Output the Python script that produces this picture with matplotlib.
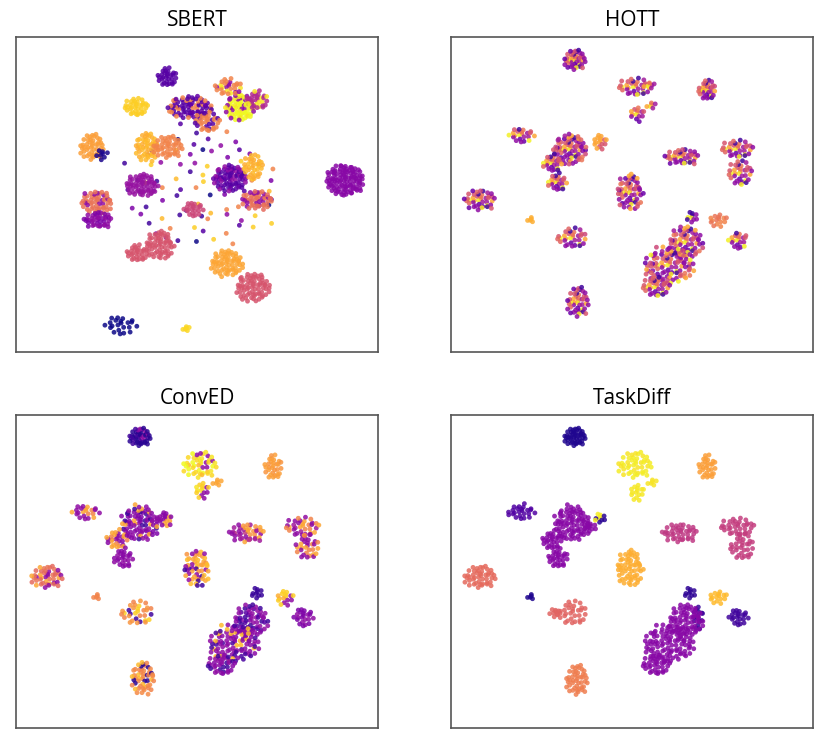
import numpy as np
import matplotlib
matplotlib.use("Agg")
import matplotlib.pyplot as plt

# t-SNE clusters: (x, y, spread_x, spread_y, n_points, class colours)
# class colours are positions in the plasma colormap (0 = navy, 1 = yellow)
titles = ["SBERT", "HOTT", "ConvED", "TaskDiff"]

sbert = [
    (185, 150, 75, 58, 85, [0.1, 0.3, 0.9, 0.7, 0.15, 0.85, 0.25, 0.0]),
    (104, 288, 15, 9, 22, [0.0]),
    (170, 292, 3, 3, 6, [0.92]),
    (329, 143, 18, 15, 110, [0.28]),
    (120, 70, 11, 9, 35, [0.9]),
    (76, 110, 11, 13, 45, [0.78]),
    (86, 118, 6, 5, 8, [0.02]),
    (81, 165, 15, 11, 55, [0.65, 0.65, 0.65, 0.3]),
    (82, 183, 13, 8, 40, [0.3, 0.3, 0.25]),
    (126, 148, 15, 11, 60, [0.32]),
    (131, 110, 11, 14, 50, [0.85, 0.82]),
    (152, 110, 14, 11, 45, [0.7]),
    (151, 40, 9, 9, 30, [0.15]),
    (174, 70, 22, 11, 80, [0.15, 0.18, 0.15, 0.7]),
    (191, 85, 12, 10, 35, [0.7, 0.7, 0.15]),
    (224, 70, 14, 13, 75, [1.0, 1.0, 0.95, 0.3]),
    (212, 50, 13, 8, 30, [0.7, 0.3, 0.95, 0.7]),
    (241, 63, 10, 9, 30, [0.4, 0.4, 0.95]),
    (214, 141, 16, 13, 75, [0.15, 0.15, 0.2, 0.3]),
    (237, 130, 9, 13, 35, [0.82, 0.85]),
    (241, 163, 15, 9, 50, [0.65, 0.62, 0.3]),
    (177, 172, 9, 7, 22, [0.5]),
    (144, 208, 13, 14, 60, [0.55]),
    (121, 216, 10, 8, 30, [0.55]),
    (211, 226, 15, 13, 65, [0.8]),
    (237, 250, 16, 14, 70, [0.55]),
]

hott_mix = [0.3, 0.55, 0.1, 0.65, 0.3, 0.98, 0.55, 0.8, 0.2, 0.6, 0.35, 0.5]
hott = [
    (124, 23, 10, 10, 45, hott_mix),
    (184, 50, 16, 9, 35, hott_mix),
    (186, 77, 7, 7, 14, hott_mix),
    (200, 69, 4, 4, 6, hott_mix),
    (198, 49, 5, 4, 6, hott_mix),
    (256, 53, 8, 10, 32, hott_mix),
    (70, 98, 12, 7, 22, hott_mix),
    (119, 112, 16, 15, 75, hott_mix),
    (101, 126, 9, 8, 25, hott_mix),
    (106, 145, 9, 8, 25, hott_mix),
    (149, 105, 7, 7, 16, [0.8, 0.8, 0.55]),
    (231, 120, 16, 8, 40, hott_mix),
    (286, 112, 15, 9, 35, hott_mix),
    (289, 136, 11, 13, 35, hott_mix),
    (179, 155, 12, 18, 60, hott_mix),
    (29, 163, 15, 10, 42, hott_mix),
    (80, 183, 3, 3, 5, [0.82]),
    (121, 201, 14, 10, 32, hott_mix),
    (241, 180, 5, 6, 10, [0.1, 0.98, 0.3]),
    (235, 205, 16, 16, 65, hott_mix),
    (218, 228, 24, 18, 100, hott_mix),
    (205, 250, 13, 10, 35, hott_mix),
    (267, 183, 9, 6, 15, [0.65, 0.7]),
    (287, 203, 9, 8, 20, hott_mix),
    (127, 265, 10, 15, 45, hott_mix),
]

conved = [
    (124, 22, 10, 9, 45, [0.05, 0.05, 0.05, 0.1, 0.3]),
    (184, 50, 16, 13, 45, [0.92, 0.95, 0.85, 1.0, 0.3]),
    (186, 75, 7, 8, 15, [0.9, 0.95, 0.3]),
    (201, 68, 4, 4, 6, [0.8]),
    (257, 52, 8, 12, 30, [0.78, 0.75]),
    (69, 97, 13, 7, 22, [0.3, 0.8, 0.3, 0.7]),
    (124, 108, 18, 17, 85, [0.28, 0.25, 0.3, 0.8, 0.28, 0.1]),
    (149, 104, 7, 7, 18, [0.28, 0.3, 0.8]),
    (101, 124, 10, 9, 28, [0.8, 0.3, 0.7, 0.28]),
    (107, 143, 9, 9, 25, [0.28, 0.3]),
    (231, 118, 17, 9, 42, [0.35, 0.8, 0.45, 0.3, 0.75]),
    (286, 112, 16, 10, 35, [0.3, 0.8, 0.35, 0.7]),
    (291, 132, 11, 12, 30, [0.3, 0.8, 0.7]),
    (181, 153, 12, 18, 55, [0.8, 0.85, 0.1, 0.3, 0.75]),
    (31, 162, 15, 11, 45, [0.62, 0.3, 0.8, 0.65]),
    (81, 182, 3, 3, 5, [0.7]),
    (121, 198, 15, 12, 32, [0.75, 0.9, 0.1, 0.7]),
    (241, 178, 5, 6, 10, [0.08]),
    (235, 205, 16, 16, 65, [0.15, 0.3, 0.28, 0.1, 0.3]),
    (218, 228, 24, 18, 100, [0.3, 0.28, 0.12, 0.3, 0.85]),
    (205, 250, 13, 10, 35, [0.3, 0.28, 0.1]),
    (269, 183, 9, 7, 16, [0.9, 0.82, 0.3]),
    (287, 202, 9, 9, 22, [0.25, 0.3]),
    (127, 263, 11, 16, 50, [0.7, 0.72, 0.85, 0.05]),
]

taskdiff = [
    (124, 22, 10, 9, 45, [0.03]),
    (184, 50, 16, 13, 45, [0.97, 0.95]),
    (186, 77, 7, 8, 15, [0.96]),
    (201, 68, 4, 4, 6, [0.95]),
    (256, 52, 8, 12, 30, [0.78]),
    (70, 97, 13, 7, 24, [0.14]),
    (121, 108, 17, 17, 85, [0.28]),
    (101, 125, 9, 9, 28, [0.28]),
    (107, 143, 9, 9, 28, [0.28]),
    (139, 112, 6, 5, 10, [0.28]),
    (149, 103, 5, 5, 10, [0.97, 0.05]),
    (229, 118, 17, 9, 42, [0.45]),
    (286, 112, 16, 9, 35, [0.47]),
    (291, 132, 11, 13, 32, [0.47]),
    (179, 153, 12, 18, 60, [0.82]),
    (29, 162, 15, 11, 45, [0.62]),
    (80, 182, 3, 3, 5, [0.03]),
    (121, 198, 14, 12, 32, [0.6]),
    (104, 198, 6, 4, 8, [0.6]),
    (239, 178, 5, 6, 10, [0.06]),
    (247, 202, 5, 12, 15, [0.08]),
    (235, 205, 16, 16, 65, [0.28]),
    (218, 228, 24, 18, 100, [0.28]),
    (205, 250, 13, 10, 35, [0.28]),
    (267, 182, 9, 6, 15, [0.85]),
    (287, 202, 9, 8, 22, [0.1]),
    (126, 265, 10, 15, 45, [0.68]),
]

panels = [sbert, hott, conved, taskdiff]

# axes boxes in pixels (left, top, width, height) on an 830x742 canvas
W, H = 830, 742
boxes = [(16, 37, 362, 315), (451, 37, 362, 315),
         (16, 415, 362, 313), (451, 415, 362, 313)]

golden = np.pi * (3 - np.sqrt(5))


def hash01(k, salt):
    # deterministic scramble so the sunflower layout does not look like a grid
    v = np.sin(k * 12.9898 + salt * 78.233) * 43758.5453
    return v - np.floor(v)


def cluster_points(cx, cy, sx, sy, n, cls):
    i = np.arange(n)
    r = np.sqrt((i + 0.5) / n) * 1.05
    t = i * golden
    step = np.sqrt(np.pi * sx * sy / n)
    x = cx + sx * r * np.cos(t) + step * 0.9 * (hash01(i, 1) - 0.5)
    y = cy + sy * r * np.sin(t) + step * 0.9 * (hash01(i, 2) - 0.5)
    pick = (hash01(i, 3) * len(cls)).astype(int)
    c = [cls[p] for p in pick]
    return x, y, c


fig = plt.figure(figsize=(W / 100, H / 100), dpi=100)
cmap = plt.get_cmap("plasma")

for title, clusters, (l, t, w, h) in zip(titles, panels, boxes):
    ax = fig.add_axes([l / W, (H - t - h) / H, w / W, h / H])
    for cx, cy, sx, sy, n, cls in clusters:
        x, y, c = cluster_points(cx, cy, sx, sy, n, cls)
        ax.scatter(x, y, c=c, cmap=cmap, vmin=0, vmax=1, s=12,
                   alpha=0.85, linewidths=0)
    ax.set_xlim(0, w)
    ax.set_ylim(h, 0)
    ax.set_xticks([])
    ax.set_yticks([])
    for sp in ax.spines.values():
        sp.set_color("#555555")
        sp.set_linewidth(1.2)
    ax.set_title(title, fontsize=15, family="Open Sans", pad=8)

fig.savefig("out.png", dpi=100)
